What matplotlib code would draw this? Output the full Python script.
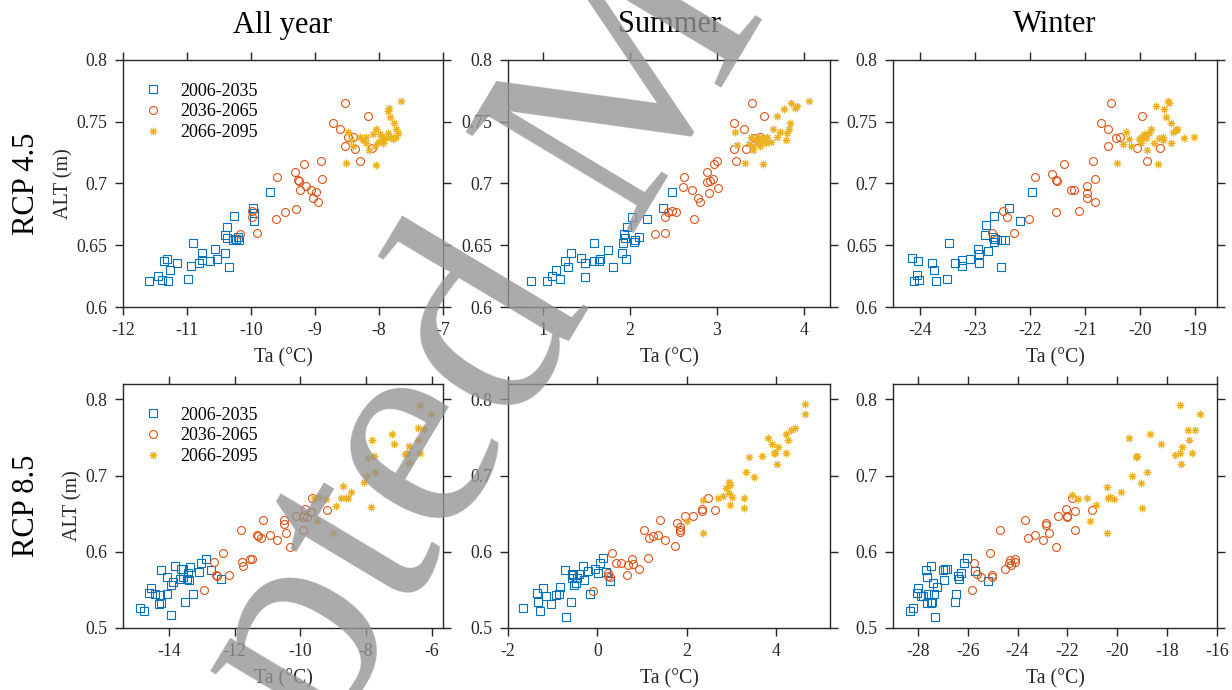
import matplotlib
matplotlib.use("Agg")
import matplotlib.pyplot as plt
from matplotlib.ticker import FormatStrFormatter

# ---- data: Ta (degC) vs ALT (m), three 30-year periods ----
periods = ["2006-2035", "2036-2065", "2066-2095"]
col_titles = ["All year", "Summer", "Winter"]
row_titles = ["RCP 4.5", "RCP 8.5"]

# RCP 4.5, all year
r45_year_ta1 = [-11.59, -11.45, -11.39, -11.30, -11.36, -11.32, -11.26, -11.15, -10.98, -10.94, -10.91,
                -10.82, -10.77, -10.77, -10.64, -10.56, -10.53, -10.40, -10.40, -10.38, -10.34, -10.38,
                -10.27, -10.28, -10.23, -10.20, -10.19, -9.97, -9.96, -9.95, -9.71]
r45_year_alt1 = [0.621, 0.625, 0.622, 0.621, 0.637, 0.639, 0.630, 0.636, 0.623, 0.633, 0.652,
                 0.636, 0.644, 0.638, 0.637, 0.647, 0.639, 0.644, 0.658, 0.665, 0.632, 0.656,
                 0.674, 0.654, 0.655, 0.657, 0.654, 0.680, 0.676, 0.670, 0.693]
r45_year_ta2 = [-10.17, -9.99, -9.98, -9.91, -9.60, -9.61, -9.47, -9.29, -9.32, -9.26, -9.25, -9.24,
                -9.17, -9.14, -9.07, -9.03, -8.99, -8.95, -8.90, -8.89, -8.72, -8.61, -8.53, -8.53,
                -8.48, -8.40, -8.38, -8.29, -8.17, -8.11]
r45_year_alt2 = [0.659, 0.678, 0.673, 0.660, 0.705, 0.671, 0.677, 0.679, 0.709, 0.703, 0.702, 0.695,
                 0.716, 0.698, 0.695, 0.688, 0.693, 0.685, 0.718, 0.704, 0.749, 0.744, 0.765, 0.730,
                 0.738, 0.738, 0.728, 0.718, 0.755, 0.729]
r45_year_ta3 = [-8.51, -8.48, -8.43, -8.41, -8.30, -8.25, -8.20, -8.20, -8.15, -8.09, -8.07, -8.04,
                -8.04, -8.02, -7.99, -7.96, -7.94, -7.94, -7.89, -7.86, -7.86, -7.84, -7.83, -7.81,
                -7.78, -7.76, -7.73, -7.73, -7.70, -7.65]
r45_year_alt3 = [0.717, 0.742, 0.735, 0.730, 0.738, 0.735, 0.738, 0.733, 0.727, 0.740, 0.730, 0.715,
                 0.744, 0.734, 0.740, 0.738, 0.736, 0.733, 0.737, 0.759, 0.741, 0.761, 0.754, 0.738,
                 0.736, 0.749, 0.744, 0.738, 0.741, 0.767]

# RCP 4.5, summer
r45_sum_ta1 = [0.86, 1.05, 1.10, 1.15, 1.20, 1.25, 1.29, 1.32, 1.44, 1.48, 1.49, 1.59, 1.59, 1.65, 1.66,
               1.75, 1.81, 1.91, 1.92, 1.93, 1.95, 1.96, 1.97, 2.02, 2.05, 2.06, 2.11, 2.20, 2.38, 2.48]
r45_sum_alt1 = [0.621, 0.621, 0.625, 0.630, 0.623, 0.637, 0.632, 0.644, 0.640, 0.636, 0.624, 0.652,
                0.637, 0.637, 0.639, 0.646, 0.632, 0.644, 0.652, 0.659, 0.656, 0.639, 0.665, 0.673,
                0.653, 0.654, 0.657, 0.671, 0.680, 0.693]
r45_sum_ta2 = [2.29, 2.40, 2.40, 2.44, 2.48, 2.53, 2.62, 2.61, 2.71, 2.74, 2.78, 2.81, 2.89, 2.89, 2.92,
               2.91, 2.96, 2.97, 3.00, 3.01, 3.20, 3.20, 3.22, 3.31, 3.34, 3.40, 3.43, 3.49, 3.54, 3.47]
r45_sum_alt2 = [0.659, 0.660, 0.673, 0.677, 0.678, 0.677, 0.705, 0.697, 0.695, 0.671, 0.688, 0.685,
                0.709, 0.701, 0.702, 0.692, 0.704, 0.716, 0.718, 0.696, 0.749, 0.728, 0.718, 0.744,
                0.728, 0.765, 0.737, 0.738, 0.755, 0.735]
r45_sum_ta3 = [3.21, 3.23, 3.32, 3.37, 3.39, 3.41, 3.42, 3.44, 3.46, 3.48, 3.50, 3.52, 3.53, 3.54, 3.56,
               3.58, 3.62, 3.65, 3.69, 3.69, 3.73, 3.77, 3.79, 3.81, 3.84, 3.85, 3.90, 3.92, 4.06, 3.83]
r45_sum_alt3 = [0.742, 0.731, 0.717, 0.732, 0.738, 0.727, 0.730, 0.735, 0.738, 0.733, 0.730, 0.737,
                0.716, 0.735, 0.733, 0.738, 0.734, 0.744, 0.755, 0.738, 0.742, 0.760, 0.735, 0.741,
                0.749, 0.765, 0.761, 0.763, 0.767, 0.744]

# RCP 4.5, winter
r45_win_ta1 = [-24.15, -24.12, -24.07, -24.04, -24.02, -23.79, -23.75, -23.72, -23.52, -23.48, -23.38,
               -23.25, -23.24, -23.09, -22.95, -22.94, -22.93, -22.77, -22.82, -22.80, -22.66, -22.68,
               -22.66, -22.65, -22.54, -22.54, -22.46, -22.38, -22.18, -21.97]
r45_win_alt1 = [0.640, 0.621, 0.626, 0.637, 0.622, 0.636, 0.630, 0.621, 0.623, 0.652, 0.636, 0.638,
                0.633, 0.639, 0.647, 0.643, 0.636, 0.645, 0.658, 0.666, 0.674, 0.657, 0.653, 0.655,
                0.654, 0.632, 0.654, 0.680, 0.670, 0.693]
r45_win_ta2 = [-22.70, -22.50, -22.42, -22.29, -22.03, -21.92, -21.61, -21.53, -21.51, -21.54, -21.38,
               -21.25, -21.21, -21.12, -20.96, -20.96, -20.97, -20.86, -20.82, -20.82, -20.71, -20.59,
               -20.59, -20.53, -20.44, -20.37, -20.05, -19.97, -19.88, -19.64]
r45_win_alt2 = [0.660, 0.678, 0.673, 0.660, 0.671, 0.705, 0.708, 0.703, 0.702, 0.677, 0.716, 0.695,
                0.695, 0.678, 0.698, 0.692, 0.688, 0.718, 0.704, 0.685, 0.749, 0.744, 0.730, 0.765,
                0.737, 0.738, 0.729, 0.755, 0.718, 0.729]
r45_win_ta3 = [-20.43, -20.32, -20.26, -20.17, -20.02, -19.96, -19.93, -19.90, -19.87, -19.81, -19.74,
               -19.71, -19.68, -19.65, -19.59, -19.56, -19.53, -19.50, -19.47, -19.44, -19.44, -19.41,
               -19.35, -19.32, -19.20, -19.02, -19.59, -19.84, -19.99, -20.20]
r45_win_alt3 = [0.717, 0.732, 0.742, 0.730, 0.736, 0.738, 0.740, 0.737, 0.727, 0.744, 0.733, 0.763,
                0.716, 0.737, 0.738, 0.760, 0.754, 0.767, 0.765, 0.749, 0.733, 0.742, 0.743, 0.744,
                0.737, 0.738, 0.735, 0.741, 0.733, 0.736]

# RCP 8.5, all year
r85_year_ta1 = [-14.88, -14.76, -14.61, -14.56, -14.41, -14.30, -14.27, -14.25, -14.23, -14.07, -14.05,
                -13.95, -13.95, -13.87, -13.83, -13.66, -13.57, -13.52, -13.46, -13.42, -13.38, -13.36,
                -13.26, -13.07, -13.02, -12.88, -12.73, -12.41, -13.58, -13.64]
r85_year_alt1 = [0.526, 0.522, 0.546, 0.553, 0.544, 0.532, 0.543, 0.576, 0.533, 0.545, 0.567, 0.517,
                 0.556, 0.560, 0.581, 0.564, 0.578, 0.534, 0.564, 0.572, 0.563, 0.580, 0.545, 0.573,
                 0.585, 0.590, 0.576, 0.564, 0.567, 0.577]
r85_year_ta2 = [-12.93, -12.63, -12.58, -12.53, -12.35, -12.17, -11.79, -11.78, -11.74, -11.54, -11.46,
                -11.28, -11.21, -11.13, -10.92, -10.72, -10.50, -10.48, -10.43, -10.32, -10.14, -9.93,
                -9.92, -9.87, -9.84, -9.67, -9.65, -9.18, -9.79, -11.31]
r85_year_alt2 = [0.550, 0.586, 0.570, 0.568, 0.598, 0.570, 0.629, 0.586, 0.581, 0.591, 0.590, 0.621,
                 0.618, 0.642, 0.622, 0.616, 0.641, 0.637, 0.625, 0.606, 0.647, 0.629, 0.646, 0.648,
                 0.656, 0.652, 0.671, 0.655, 0.646, 0.622]
r85_year_ta3 = [-9.58, -9.50, -9.43, -9.20, -8.99, -8.92, -8.77, -8.69, -8.62, -8.55, -8.45, -8.06,
                -7.96, -7.93, -7.84, -7.81, -7.74, -7.71, -7.20, -7.15, -6.82, -6.74, -6.69, -6.69,
                -6.42, -6.42, -6.36, -6.36, -6.23, -6.01]
r85_year_alt3 = [0.670, 0.640, 0.672, 0.669, 0.625, 0.660, 0.670, 0.686, 0.670, 0.671, 0.678, 0.691,
                 0.699, 0.723, 0.659, 0.747, 0.725, 0.704, 0.754, 0.741, 0.728, 0.729, 0.739, 0.716,
                 0.762, 0.746, 0.729, 0.793, 0.761, 0.780]

# RCP 8.5, summer
r85_sum_ta1 = [-1.66, -1.35, -1.34, -1.28, -1.22, -1.16, -1.03, -0.93, -0.85, -0.83, -0.73, -0.70,
               -0.60, -0.58, -0.55, -0.52, -0.49, -0.46, -0.41, -0.32, -0.30, -0.21, -0.17, -0.06,
               0.01, 0.05, 0.12, 0.20, 0.27, -0.56]
r85_sum_alt1 = [0.526, 0.546, 0.534, 0.522, 0.552, 0.542, 0.532, 0.543, 0.545, 0.554, 0.576, 0.515,
                0.534, 0.565, 0.570, 0.557, 0.559, 0.565, 0.571, 0.581, 0.563, 0.575, 0.545, 0.578,
                0.572, 0.585, 0.592, 0.574, 0.562, 0.571]
r85_sum_ta2 = [-0.11, 0.24, 0.27, 0.33, 0.42, 0.53, 0.65, 0.68, 0.78, 0.94, 1.13, 1.03, 1.15, 1.24,
               1.35, 1.39, 1.52, 1.73, 1.78, 1.85, 1.85, 1.95, 2.14, 2.34, 2.34, 2.63, 2.47, 1.84,
               0.79, 0.24]
r85_sum_alt2 = [0.549, 0.572, 0.567, 0.598, 0.585, 0.585, 0.570, 0.583, 0.590, 0.578, 0.592, 0.628,
                0.618, 0.621, 0.622, 0.642, 0.615, 0.607, 0.638, 0.626, 0.629, 0.647, 0.647, 0.653,
                0.656, 0.655, 0.670, 0.633, 0.584, 0.568]
r85_sum_ta3 = [2.00, 2.36, 2.36, 2.69, 2.81, 2.94, 2.94, 2.96, 2.96, 3.01, 3.27, 3.27, 3.33, 3.39,
               3.51, 3.69, 3.81, 3.91, 3.95, 3.98, 4.01, 4.04, 4.22, 4.22, 4.26, 4.33, 4.41, 4.65,
               4.65, 2.88]
r85_sum_alt3 = [0.640, 0.625, 0.668, 0.670, 0.673, 0.677, 0.691, 0.688, 0.661, 0.672, 0.671, 0.658,
                0.705, 0.724, 0.698, 0.725, 0.749, 0.741, 0.729, 0.729, 0.715, 0.737, 0.729, 0.755,
                0.747, 0.760, 0.762, 0.794, 0.781, 0.683]

# RCP 8.5, winter
r85_win_ta1 = [-28.30, -28.19, -28.05, -28.00, -27.86, -27.78, -27.69, -27.65, -27.62, -27.59, -27.46,
               -27.42, -27.40, -27.37, -27.32, -27.24, -27.01, -26.97, -26.83, -26.51, -26.46, -26.40,
               -26.37, -26.29, -26.15, -26.02, -25.72, -25.20, -27.46, -26.91]
r85_win_alt1 = [0.522, 0.526, 0.546, 0.552, 0.542, 0.542, 0.576, 0.567, 0.533, 0.544, 0.581, 0.534,
                0.559, 0.545, 0.515, 0.554, 0.576, 0.563, 0.578, 0.534, 0.545, 0.568, 0.564, 0.572,
                0.585, 0.592, 0.575, 0.562, 0.533, 0.578]
r85_win_ta2 = [-25.85, -25.74, -25.61, -25.47, -25.11, -25.04, -25.04, -24.70, -24.49, -24.36, -24.29,
               -24.11, -23.71, -23.57, -23.30, -23.00, -22.86, -22.75, -22.45, -22.39, -22.05, -22.02,
               -21.71, -21.80, -21.71, -21.03, -22.86, -24.25, -24.11, -22.02]
r85_win_alt2 = [0.550, 0.585, 0.571, 0.567, 0.598, 0.570, 0.567, 0.629, 0.578, 0.585, 0.589, 0.586,
                0.642, 0.618, 0.622, 0.615, 0.638, 0.625, 0.606, 0.647, 0.656, 0.647, 0.628, 0.670,
                0.653, 0.655, 0.635, 0.583, 0.591, 0.645]
r85_win_ta3 = [-21.80, -21.57, -21.20, -21.10, -20.86, -20.42, -20.39, -20.28, -20.14, -19.87, -19.53,
               -19.40, -19.26, -19.19, -19.06, -18.99, -18.79, -18.68, -18.24, -17.70, -17.49, -17.43,
               -17.40, -17.49, -17.18, -17.13, -17.02, -16.88, -16.68, -20.42]
r85_win_alt3 = [0.674, 0.669, 0.670, 0.640, 0.661, 0.685, 0.670, 0.672, 0.669, 0.679, 0.749, 0.699,
                0.724, 0.725, 0.690, 0.658, 0.704, 0.754, 0.741, 0.727, 0.729, 0.715, 0.738, 0.793,
                0.760, 0.747, 0.729, 0.760, 0.781, 0.624]

# axis ranges and ticks per panel
xlims = [[(-12, -7), (0.6, 4.3), (-24.5, -18.6)], [(-15.4, -5.65), (-2, 5.2), (-29, -16)]]
xticks = [[[-12, -11, -10, -9, -8, -7], [1, 2, 3, 4], [-24, -23, -22, -21, -20, -19]],
          [[-14, -12, -10, -8, -6], [-2, 0, 2, 4], [-28, -26, -24, -22, -20, -18, -16]]]
ylims = [(0.6, 0.8), (0.5, 0.82)]
yticks = [[0.6, 0.65, 0.7, 0.75, 0.8], [0.5, 0.6, 0.7, 0.8]]

panels = [
    [(r45_year_ta1, r45_year_alt1, r45_year_ta2, r45_year_alt2, r45_year_ta3, r45_year_alt3),
     (r45_sum_ta1, r45_sum_alt1, r45_sum_ta2, r45_sum_alt2, r45_sum_ta3, r45_sum_alt3),
     (r45_win_ta1, r45_win_alt1, r45_win_ta2, r45_win_alt2, r45_win_ta3, r45_win_alt3)],
    [(r85_year_ta1, r85_year_alt1, r85_year_ta2, r85_year_alt2, r85_year_ta3, r85_year_alt3),
     (r85_sum_ta1, r85_sum_alt1, r85_sum_ta2, r85_sum_alt2, r85_sum_ta3, r85_sum_alt3),
     (r85_win_ta1, r85_win_alt1, r85_win_ta2, r85_win_alt2, r85_win_ta3, r85_win_alt3)],
]

# ---- styling ----
plt.rcParams["font.family"] = ["Liberation Serif", "DejaVu Serif"]
plt.rcParams["axes.unicode_minus"] = False
ink = "#262626"
colors = ["#0072BD", "#D95319", "#EDB120"]
markers = ["s", "o", (8, 2, 0)]
msizes = [5.3, 5.7, 5.4]

W, H = 1232, 690
fig = plt.figure(figsize=(W / 100, H / 100), dpi=100)

col_px = [(123, 443), (508, 830), (893, 1217)]
row_px = [(60, 307), (384, 628)]

for r in range(2):
    for c in range(3):
        x0, x1 = col_px[c]
        y0, y1 = row_px[r]
        ax = fig.add_axes([x0 / W, 1 - y1 / H, (x1 - x0) / W, (y1 - y0) / H])
        d = panels[r][c]
        for k in range(3):
            ax.plot(d[2 * k], d[2 * k + 1], linestyle="none", marker=markers[k],
                    markersize=msizes[k], markerfacecolor="none", markeredgecolor=colors[k],
                    markeredgewidth=0.8, label=periods[k])
        ax.set_xlim(*xlims[r][c])
        ax.set_ylim(*ylims[r])
        ax.set_xticks(xticks[r][c])
        ax.set_yticks(yticks[r])
        ax.xaxis.set_major_formatter(FormatStrFormatter("%g"))
        ax.yaxis.set_major_formatter(FormatStrFormatter("%g"))
        ax.tick_params(direction="out", length=6, width=1.0, color=ink, labelcolor=ink,
                       labelsize=12.8, top=True, right=True, pad=5)
        for s in ax.spines.values():
            s.set_color(ink)
            s.set_linewidth(1.0)
        ax.set_xlabel("Ta (°C)", fontsize=14.2, color=ink, labelpad=6)
        if c == 0:
            ax.set_ylabel("ALT (m)", fontsize=14.5, color=ink, labelpad=2)
            ax.legend(loc="upper left", bbox_to_anchor=(0.065, 1 - 22.5 / (y1 - y0)),
                      frameon=False, fontsize=13, handlelength=1.0, handletextpad=1.0,
                      labelspacing=0.22, borderpad=0, borderaxespad=0)
        if r == 0:
            fig.text((x0 + x1) / 2 / W, 1 - 25 / H, col_titles[c], fontsize=22,
                     ha="center", va="center", color="black")
    fig.text(27 / W, 1 - (row_px[r][0] + row_px[r][1]) / 2 / H, row_titles[r], fontsize=22,
             rotation=90, ha="center", va="center", color="black")

# publisher watermark across the figure
fig.text(0.495, 0.804, "Accepted Manuscript", fontsize=216, rotation=59, rotation_mode="anchor",
         ha="center", va="center", color="#959595", alpha=0.8, zorder=10)

fig.savefig("out.png", dpi=100)
print("wrote out.png")
